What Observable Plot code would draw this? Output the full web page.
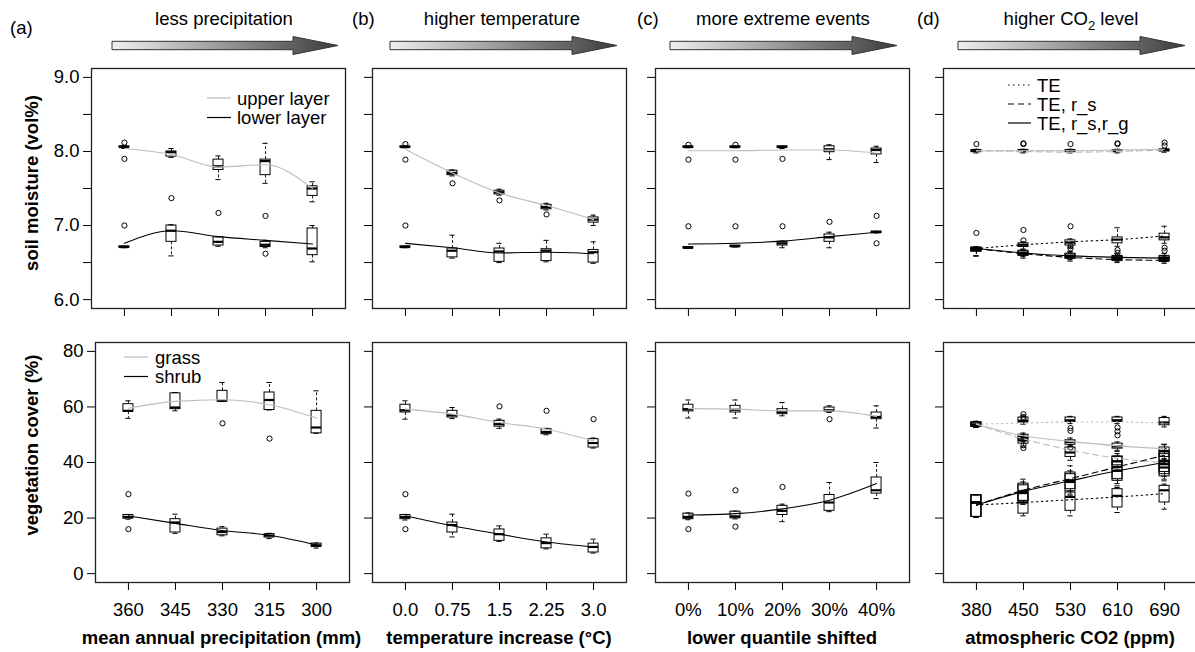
<!DOCTYPE html>
<html><head><meta charset="utf-8">
<script src="https://cdn.jsdelivr.net/npm/d3@7"></script>
<script src="https://cdn.jsdelivr.net/npm/@observablehq/plot@0.6"></script>
<style>
body{margin:0;background:#fff;}
#wrap{position:relative;width:1195px;height:652px;overflow:hidden;font-family:"Liberation Sans",Arial,Helvetica,sans-serif;}
#wrap svg{position:absolute;}
</style></head><body><div id="wrap"></div>
<script>
// ---------- tick labels ----------
const precipLabels = ["360","345","330","315","300"];
const tempLabels = ["0.0","0.75","1.5","2.25","3.0"];
const extremeLabels = ["0%","10%","20%","30%","40%"];
const co2Labels = ["380","450","530","610","690"];
const soilTicks = [6,6.5,7,7.5,8,8.5,9];
const vegTicks = [0,20,40,60,80];

// ---------- soil moisture (box rows: q1, median, q3, lower whisker, upper whisker) ----------
const aUpperLine = [8.04, 7.96, 7.79, 7.82, 7.50];
const aUpperBox = [[8.05,8.06,8.07,8.04,8.08],[7.93,7.99,8.00,7.92,8.04],[7.75,7.80,7.89,7.62,7.94],[7.68,7.87,7.89,7.57,8.11],[7.40,7.50,7.53,7.32,7.59]];
const aUpperOut = [[1,8.12],[1,7.90],[2,7.37],[3,7.17],[4,7.13]];
const aLowerLine = [6.76, 6.93, 6.85, 6.80, 6.75];
const aLowerBox = [[6.70,6.71,6.72,6.70,6.72],[6.78,6.93,7.00,6.59,7.01],[6.73,6.78,6.84,6.72,6.85],[6.71,6.74,6.78,6.70,6.80],[6.60,6.69,6.96,6.51,7.00]];
const aLowerOut = [[1,7.00],[4,6.62]];

const bUpperLine = [8.03, 7.71, 7.44, 7.27, 7.08];
const bUpperBox = [[8.05,8.06,8.07,8.05,8.07],[7.68,7.71,7.74,7.67,7.75],[7.42,7.45,7.47,7.41,7.49],[7.22,7.25,7.28,7.21,7.30],[7.04,7.08,7.11,7.00,7.14]];
const bUpperOut = [[1,8.10],[1,7.89],[2,7.57],[3,7.34],[4,7.15]];
const bLowerLine = [6.76, 6.70, 6.63, 6.64, 6.62];
const bLowerBox = [[6.70,6.71,6.72,6.70,6.72],[6.57,6.66,6.69,6.56,6.87],[6.51,6.65,6.69,6.50,6.76],[6.52,6.66,6.68,6.51,6.80],[6.50,6.64,6.67,6.49,6.78]];
const bLowerOut = [[1,7.00]];

const cUpperLine = [8.01, 8.01, 8.02, 8.02, 7.98];
const cUpperBox = [[8.05,8.06,8.07,8.05,8.07],[8.05,8.06,8.07,8.05,8.07],[8.05,8.06,8.07,8.04,8.07],[7.99,8.03,8.07,7.89,8.09],[7.96,8.02,8.04,7.85,8.07]];
const cUpperOut = [[1,8.09],[1,7.89],[2,8.09],[2,7.89],[3,7.90]];
const cLowerLine = [6.75, 6.76, 6.79, 6.85, 6.91];
const cLowerBox = [[6.69,6.70,6.71,6.69,6.71],[6.71,6.72,6.73,6.71,6.73],[6.73,6.76,6.78,6.70,6.79],[6.78,6.84,6.88,6.70,6.91],[6.90,6.91,6.92,6.90,6.92]];
const cLowerOut = [[1,6.99],[2,6.99],[3,6.99],[4,7.05],[5,7.13],[5,6.76]];

const dUpperLineTE = [8.01, 8.01, 8.01, 8.01, 8.02];
const dUpperLineRs = [8.01, 8.00, 7.99, 8.00, 8.02];
const dUpperLineRsg = [8.01, 8.01, 8.01, 8.02, 8.03];
const dUpperBox = [[7.99,8.01,8.02,7.98,8.03],[7.99,8.01,8.02,7.98,8.03],[7.99,8.01,8.02,7.98,8.03],[7.99,8.01,8.02,7.98,8.03],[8.00,8.02,8.03,7.99,8.04]];
const dUpperOut = [[1,8.10],[2,8.10],[2,8.11],[3,8.10],[4,8.10],[4,8.11],[5,8.12],[5,8.08]];
const dLowerLineTE = [6.69, 6.74, 6.78, 6.81, 6.86];
const dLowerLineRs = [6.69, 6.62, 6.57, 6.54, 6.53];
const dLowerLineRsg = [6.69, 6.63, 6.59, 6.57, 6.56];
const dLowerBoxTE = [[6.65,6.68,6.70,6.59,6.71],[6.71,6.74,6.76,6.68,6.78],[6.73,6.77,6.80,6.70,6.82],[6.76,6.81,6.84,6.72,6.97],[6.80,6.84,6.89,6.76,6.99]];
const dLowerBoxRs = [[6.65,6.68,6.70,6.59,6.71],[6.59,6.62,6.65,6.56,6.67],[6.55,6.58,6.61,6.52,6.64],[6.52,6.55,6.58,6.50,6.60],[6.51,6.53,6.57,6.49,6.59]];
const dLowerBoxRsg = [[6.65,6.68,6.70,6.59,6.71],[6.60,6.63,6.66,6.58,6.68],[6.56,6.59,6.62,6.54,6.65],[6.54,6.57,6.59,6.52,6.62],[6.53,6.56,6.59,6.51,6.62]];
const dLowerOut = [[1,6.90],[2,6.94],[2,6.80],[3,6.99],[3,6.72],[3,6.69],[4,6.67],[4,6.63],[5,6.66],[5,6.70]];

// ---------- vegetation cover ----------
const aGrassLine = [59.5, 62.0, 62.6, 60.8, 56.0];
const aGrassBox = [[58.3,58.6,61.0,55.9,62.2],[59.2,59.8,64.9,58.6,65.2],[62.0,62.2,65.8,62.0,68.8],[58.9,62.5,65.2,58.9,68.8],[50.5,52.6,58.6,50.5,65.8]];
const aGrassOut = [[3,54.1],[4,48.6]];
const aShrubLine = [20.8, 18.1, 15.5, 13.8, 10.3];
const aShrubBox = [[19.8,20.4,21.1,19.6,21.3],[14.8,18.4,19.6,14.5,21.4],[13.8,15.0,16.2,13.6,16.9],[13.0,13.7,14.2,12.6,14.5],[9.6,10.2,10.8,9.2,11.0]];
const aShrubOut = [[1,28.6],[1,16.0]];

const bGrassLine = [59.2, 57.4, 54.4, 52.0, 47.8];
const bGrassBox = [[58.0,58.8,60.8,55.6,62.2],[56.2,57.0,58.6,55.8,59.8],[52.9,53.8,55.0,52.3,55.6],[50.2,51.0,52.0,50.0,52.3],[45.4,47.0,48.4,45.2,48.8]];
const bGrassOut = [[3,60.2],[4,58.6],[5,55.6]];
const bShrubLine = [20.8, 17.2, 14.2, 11.4, 9.6];
const bShrubBox = [[19.6,20.4,21.1,19.3,21.3],[14.8,17.5,18.4,13.2,21.4],[11.8,14.2,15.9,11.6,17.2],[9.1,11.0,12.7,8.9,14.2],[7.6,9.6,10.8,7.4,12.4]];
const bShrubOut = [[1,28.6],[1,16.0]];

const cGrassLine = [59.4, 59.2, 58.6, 58.6, 56.6];
const cGrassBox = [[58.4,59.2,60.8,56.0,62.5],[58.0,59.0,60.4,56.0,62.5],[57.4,58.2,59.2,56.8,61.6],[58.3,58.8,59.8,58.0,60.4],[55.6,56.4,58.0,52.4,60.4]];
const cGrassOut = [[4,55.6]];
const cShrubLine = [21.1, 21.6, 23.3, 26.4, 32.4];
const cShrubBox = [[19.6,20.4,21.6,19.4,21.8],[19.9,20.6,22.3,19.7,22.5],[21.1,22.6,24.4,18.7,25.0],[22.6,25.6,28.3,22.3,32.8],[28.8,30.0,34.6,27.0,40.0]];
const cShrubOut = [[1,28.8],[1,16.0],[2,30.0],[2,16.9],[3,31.2]];

const dGrassLineTE = [53.8, 54.2, 54.6, 54.6, 54.2];
const dGrassLineRs = [53.8, 48.5, 44.5, 41.5, 40.0];
const dGrassLineRsg = [53.8, 49.6, 47.6, 46.0, 45.0];
const dGrassBoxTE = [[52.9,53.6,54.4,52.6,54.8],[54.4,55.0,56.2,53.8,56.8],[54.6,55.2,56.2,54.0,56.6],[54.6,55.2,56.2,54.0,56.6],[53.4,54.4,56.0,52.8,56.6]];
const dGrassBoxRs = [[52.9,53.6,54.4,52.6,54.8],[46.8,48.0,49.0,45.6,50.0],[42.0,43.6,45.4,40.8,46.4],[39.0,40.4,42.2,37.6,43.2],[36.6,38.2,40.0,35.0,41.4]];
const dGrassBoxRsg = [[52.9,53.6,54.4,52.6,54.8],[48.4,49.2,50.0,47.6,50.6],[46.4,47.4,48.0,45.8,48.8],[45.0,45.8,46.8,44.4,47.4],[42.0,44.0,45.4,41.0,46.6]];
const dGrassOut = [[2,57.4],[2,56.4],[2,55.6],[2,46.2],[2,45.2],[3,52.4],[3,51.4],[3,45.4],[4,52.6],[4,51.2],[4,49.8]];
const dShrubLineTE = [24.7, 25.6, 26.6, 27.6, 28.8];
const dShrubLineRs = [24.7, 30.0, 34.2, 38.4, 42.6];
const dShrubLineRsg = [24.7, 29.6, 33.4, 37.0, 40.0];
const dShrubBoxTE = [[20.4,25.6,28.2,20.2,28.4],[21.6,25.6,29.2,20.8,30.0],[22.6,27.6,29.2,20.8,29.8],[23.8,28.0,30.4,22.0,31.0],[25.6,30.0,31.6,23.2,32.2]];
const dShrubBoxRs = [[20.4,25.6,28.2,20.2,28.4],[26.2,29.6,32.4,25.0,34.0],[30.4,33.6,36.4,28.6,38.8],[34.0,38.4,42.0,32.4,44.0],[35.8,40.6,44.2,34.0,46.4]];
const dShrubBoxRsg = [[20.4,25.6,28.2,20.2,28.4],[26.0,29.0,31.8,25.0,33.0],[29.6,33.0,35.8,28.0,37.0],[33.4,37.0,40.4,31.6,42.4],[35.0,39.4,43.0,33.4,45.0]];

// ---------- styles ----------
const FONT = '"Liberation Sans", Arial, Helvetica, sans-serif';
const FS = 18.5;
const GRAY = "#bdbdbd";
const DOT = "1.5,3.5", DASH = "6,4";
const ML = 70, MR = 8, MT = 6, MB = 42, W = 254, H = 240;
const wrap = document.getElementById("wrap");

function panel({left, top, ydomain, yticks, yfmt, xlabels, series, outs}) {
  const hw = 5 * 5.4 / W, sw = 2.6 * 5.4 / W;
  const rows = [];
  series.forEach(s => (s.box || []).forEach((b, i) => rows.push({x: i + 1, q1: b[0], med: b[1], q3: b[2], lo: b[3], hi: b[4]})));
  const outRows = outs.map(([x, y]) => ({x, y}));
  const marks = [
    Plot.axisY({ticks: yticks, tickFormat: yfmt, tickSize: 8, tickPadding: 4, fontSize: FS, label: null}),
    Plot.axisX({ticks: [1,2,3,4,5], tickFormat: i => xlabels ? xlabels[i - 1] : "", tickSize: 8, tickPadding: 12, fontSize: FS, label: null}),
    Plot.ruleX(rows, {x: "x", y1: "q3", y2: "hi", stroke: "#000", strokeWidth: 0.9, strokeDasharray: "3,2"}),
    Plot.ruleX(rows, {x: "x", y1: "q1", y2: "lo", stroke: "#000", strokeWidth: 0.9, strokeDasharray: "3,2"}),
    Plot.ruleY(rows, {y: "hi", x1: d => d.x - sw, x2: d => d.x + sw, stroke: "#000", strokeWidth: 1}),
    Plot.ruleY(rows, {y: "lo", x1: d => d.x - sw, x2: d => d.x + sw, stroke: "#000", strokeWidth: 1}),
    Plot.rect(rows, {x1: d => d.x - hw, x2: d => d.x + hw, y1: "q1", y2: "q3", fill: "none", stroke: "#000", strokeWidth: 1}),
    Plot.ruleY(rows, {y: "med", x1: d => d.x - hw, x2: d => d.x + hw, stroke: "#000", strokeWidth: 2.2}),
    Plot.dot(outRows, {x: "x", y: "y", r: 2.6, stroke: "#000", fill: "none", strokeWidth: 1}),
    ...series.filter(s => s.line).map(s => Plot.line(s.line.map((v, i) => ({x: i + 1, y: v})),
      {x: "x", y: "y", stroke: s.color, strokeWidth: 1.1, strokeDasharray: s.dash || null, curve: "monotone-x"})),
    Plot.frame({stroke: "#222", strokeWidth: 1.3})
  ];
  const svg = Plot.plot({
    width: W + ML + MR, height: H + MT + MB,
    marginLeft: ML, marginRight: MR, marginTop: MT, marginBottom: MB,
    x: {domain: [0.3, 5.7], label: null},
    y: {domain: ydomain, label: null},
    style: {background: "transparent", overflow: "visible", fontFamily: FONT, fontSize: FS + "px", color: "#000"},
    marks
  });
  svg.style.left = (left - ML) + "px";
  svg.style.top = (top - MT) + "px";
  wrap.appendChild(svg);
}

const soilDom = [5.88, 9.12], vegDom = [-3.2, 83.2];
const soilFmt = d => Number.isInteger(d) ? d.toFixed(1) : "";
const none = () => "";
const TOP = 68.4, BOT = 341.8;

panel({left: 90.5, top: TOP, ydomain: soilDom, yticks: soilTicks, yfmt: soilFmt, xlabels: null,
  series: [{line: aUpperLine, box: aUpperBox, color: GRAY}, {line: aLowerLine, box: aLowerBox, color: "#000"}], outs: [...aUpperOut, ...aLowerOut]});
panel({left: 372.2, top: TOP, ydomain: soilDom, yticks: soilTicks, yfmt: none, xlabels: null,
  series: [{line: bUpperLine, box: bUpperBox, color: GRAY}, {line: bLowerLine, box: bLowerBox, color: "#000"}], outs: [...bUpperOut, ...bLowerOut]});
panel({left: 654.8, top: TOP, ydomain: soilDom, yticks: soilTicks, yfmt: none, xlabels: null,
  series: [{line: cUpperLine, box: cUpperBox, color: GRAY}, {line: cLowerLine, box: cLowerBox, color: "#000"}], outs: [...cUpperOut, ...cLowerOut]});
panel({left: 943, top: TOP, ydomain: soilDom, yticks: soilTicks, yfmt: none, xlabels: null,
  series: [
    {box: dUpperBox}, {box: dLowerBoxTE}, {box: dLowerBoxRs}, {box: dLowerBoxRsg},
    {line: dUpperLineTE, color: GRAY, dash: DOT}, {line: dUpperLineRs, color: GRAY, dash: DASH}, {line: dUpperLineRsg, color: GRAY},
    {line: dLowerLineTE, color: "#000", dash: DOT}, {line: dLowerLineRs, color: "#000", dash: DASH}, {line: dLowerLineRsg, color: "#000"}],
  outs: [...dUpperOut, ...dLowerOut]});

panel({left: 95, top: BOT, ydomain: vegDom, yticks: vegTicks, yfmt: d => String(d), xlabels: precipLabels,
  series: [{line: aGrassLine, box: aGrassBox, color: GRAY}, {line: aShrubLine, box: aShrubBox, color: "#000"}], outs: [...aGrassOut, ...aShrubOut]});
panel({left: 372.2, top: BOT, ydomain: vegDom, yticks: vegTicks, yfmt: none, xlabels: tempLabels,
  series: [{line: bGrassLine, box: bGrassBox, color: GRAY}, {line: bShrubLine, box: bShrubBox, color: "#000"}], outs: [...bGrassOut, ...bShrubOut]});
panel({left: 654.8, top: BOT, ydomain: vegDom, yticks: vegTicks, yfmt: none, xlabels: extremeLabels,
  series: [{line: cGrassLine, box: cGrassBox, color: GRAY}, {line: cShrubLine, box: cShrubBox, color: "#000"}], outs: [...cGrassOut, ...cShrubOut]});
panel({left: 943, top: BOT, ydomain: vegDom, yticks: vegTicks, yfmt: none, xlabels: co2Labels,
  series: [
    {box: dGrassBoxTE}, {box: dGrassBoxRs}, {box: dGrassBoxRsg}, {box: dShrubBoxTE}, {box: dShrubBoxRs}, {box: dShrubBoxRsg},
    {line: dGrassLineTE, color: GRAY, dash: DOT}, {line: dGrassLineRs, color: GRAY, dash: DASH}, {line: dGrassLineRsg, color: GRAY},
    {line: dShrubLineTE, color: "#000", dash: DOT}, {line: dShrubLineRs, color: "#000", dash: DASH}, {line: dShrubLineRsg, color: "#000"}],
  outs: [...dGrassOut]});

// ---------- overlay: headers, arrows, axis titles, legends ----------
const headers = [
  {tag: "(a)", tx: 10, ty: 34, title: "less precipitation", cx: 224, ax0: 112, ax1: 338},
  {tag: "(b)", tx: 352, ty: 25, title: "higher temperature", cx: 502, ax0: 390, ax1: 617},
  {tag: "(c)", tx: 637, ty: 25, title: "more extreme events", cx: 783, ax0: 670, ax1: 897},
  {tag: "(d)", tx: 917, ty: 25, title: null, cx: 1071, ax0: 958, ax1: 1185}
];
const xTitles = [
  {t: "mean annual precipitation (mm)", x: 221.5},
  {t: "temperature increase (°C)", x: 499},
  {t: "lower quantile shifted", x: 782},
  {t: "atmospheric CO2 (ppm)", x: 1070}
];
const ov = d3.select(wrap).append("svg").attr("width", 1195).attr("height", 652)
  .style("left", "0px").style("top", "0px").style("font-family", FONT).style("font-size", FS + "px");
const grad = ov.append("defs").append("linearGradient").attr("id", "ag").attr("x1", "0%").attr("x2", "100%");
grad.append("stop").attr("offset", "0%").attr("stop-color", "#f0f0f0");
grad.append("stop").attr("offset", "100%").attr("stop-color", "#3c3c3c");
const AY = 45.5;
headers.forEach(h => {
  ov.append("text").attr("x", h.tx).attr("y", h.ty).text(h.tag);
  const t = ov.append("text").attr("x", h.cx).attr("y", 25).attr("text-anchor", "middle");
  if (h.title) t.text(h.title);
  else { t.append("tspan").text("higher CO"); t.append("tspan").attr("dy", 5).attr("font-size", 13).text("2"); t.append("tspan").attr("dy", -5).text(" level"); }
  const hx = h.ax1 - 45;
  const pts = [[h.ax0, AY - 4.2], [hx, AY - 4.2], [hx, AY - 9], [h.ax1, AY], [hx, AY + 9], [hx, AY + 4.2], [h.ax0, AY + 4.2]];
  ov.append("polygon").attr("points", pts.map(p => p.join(",")).join(" "))
    .attr("fill", "url(#ag)").attr("stroke", "#333").attr("stroke-width", 1);
});
xTitles.forEach(d => ov.append("text").attr("x", d.x).attr("y", 644).attr("text-anchor", "middle").attr("font-weight", "bold").text(d.t));
[["soil moisture (vol%)", 183], ["vegetation cover (%)", 445]].forEach(([t, y]) =>
  ov.append("text").attr("transform", `translate(38,${y}) rotate(-90)`).attr("text-anchor", "middle").attr("font-weight", "bold").text(t));
function legend(items, lx0, lx1, tx, y0, dy) {
  items.forEach((it, i) => {
    const y = y0 + i * dy;
    ov.append("line").attr("x1", lx0).attr("x2", lx1).attr("y1", y).attr("y2", y).attr("stroke", it.c).attr("stroke-width", 1.2).attr("stroke-dasharray", it.d || null);
    ov.append("text").attr("x", tx).attr("y", y + 6.5).text(it.t);
  });
}
legend([{t: "upper layer", c: GRAY}, {t: "lower layer", c: "#000"}], 207, 231, 237, 98, 19.5);
legend([{t: "grass", c: GRAY}, {t: "shrub", c: "#000"}], 124, 148, 155, 357, 19.5);
legend([{t: "TE", c: "#000", d: DOT}, {t: "TE, r_s", c: "#000", d: DASH}, {t: "TE, r_s,r_g", c: "#000"}], 1008, 1031, 1037, 85, 19);
</script></body></html>
